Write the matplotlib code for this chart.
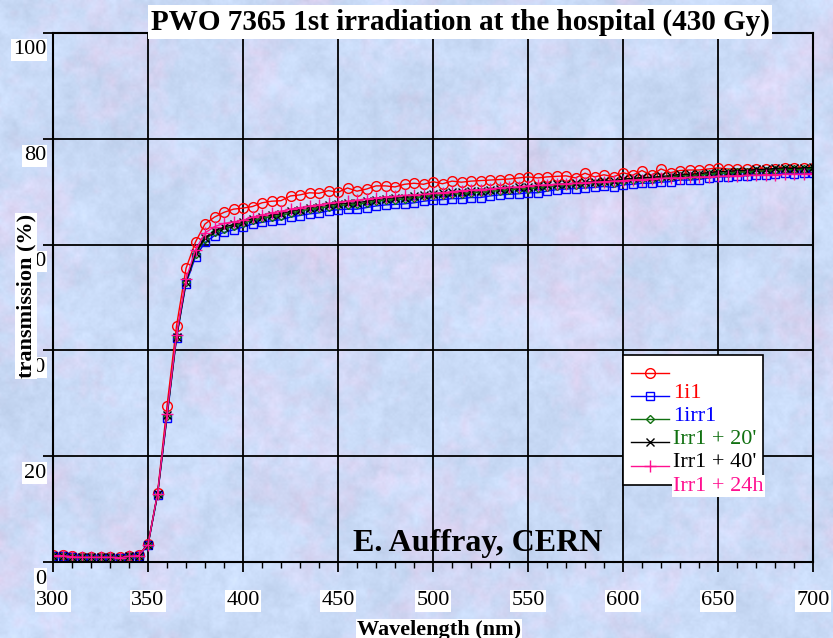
import numpy as np
import matplotlib
matplotlib.use("Agg")
import matplotlib.pyplot as plt
from matplotlib.transforms import Affine2D, blended_transform_factory, offset_copy
from matplotlib.lines import Line2D
from matplotlib.patches import Rectangle

# wavelength grid (nm), 5 nm steps
wl = np.arange(300, 705, 5)

# transmission (%) for each measurement
t_before = [1.3, 1.3, 1.1, 1.0, 1.0, 1.0, 1.0, 0.9, 1.2, 1.3,
            3.4, 13.0, 29.5, 44.6, 55.5, 60.5, 63.9, 65.2, 66.1, 66.7,
            66.9, 67.2, 67.9, 68.2, 68.3, 69.2, 69.4, 69.8, 69.7, 70.2,
            69.9, 70.7, 70.1, 70.5, 71.1, 71.1, 70.9, 71.4, 71.6, 71.4,
            71.9, 71.5, 72.0, 71.8, 72.0, 72.1, 72.2, 72.3, 72.4, 72.6,
            72.8, 72.6, 72.8, 72.9, 73.0, 72.6, 73.5, 72.8, 73.2, 72.8,
            73.6, 73.1, 74.0, 73.1, 74.3, 73.6, 74.0, 74.1, 74.1, 74.3,
            74.5, 74.3, 74.3, 74.3, 74.3, 74.3, 74.3, 74.5, 74.5, 74.5,
            74.5]
t_1i1 = [1.1, 1.1, 0.9, 0.8, 0.8, 0.8, 0.8, 0.7, 1.0, 1.1,
         3.2, 12.6, 27.3, 42.3, 52.6, 57.7, 60.4, 61.7, 62.3, 62.8,
         63.3, 63.9, 64.2, 64.5, 64.7, 65.2, 65.5, 65.8, 66.0, 66.4,
         66.6, 66.7, 66.7, 67.0, 67.3, 67.5, 67.6, 67.7, 67.9, 68.2,
         68.4, 68.5, 68.7, 68.7, 68.9, 68.9, 69.2, 69.4, 69.5, 69.6,
         69.8, 69.8, 70.1, 70.4, 70.5, 70.6, 70.7, 70.8, 71.0, 70.8,
         71.3, 71.4, 71.6, 71.6, 71.8, 71.9, 72.2, 72.2, 72.3, 72.6,
         72.8, 72.8, 73.0, 73.0, 73.2, 73.2, 73.3, 73.5, 73.4, 73.5,
         73.5]
t_1irr1 = [1.2, 1.2, 1.0, 0.9, 0.9, 0.9, 0.9, 0.8, 1.1, 1.2,
           3.3, 12.7, 27.6, 42.5, 52.9, 58.2, 61.0, 62.3, 63.0, 63.5,
           64.0, 64.6, 65.0, 65.3, 65.5, 66.0, 66.3, 66.7, 66.9, 67.2,
           67.4, 67.5, 67.6, 67.9, 68.2, 68.4, 68.5, 68.6, 68.8, 69.1,
           69.3, 69.4, 69.6, 69.6, 69.8, 69.9, 70.1, 70.2, 70.3, 70.5,
           70.6, 70.7, 70.9, 71.1, 71.2, 71.3, 71.5, 71.6, 71.8, 71.7,
           72.1, 72.2, 72.4, 72.4, 72.6, 72.7, 73.0, 73.0, 73.1, 73.3,
           73.5, 73.5, 73.7, 73.7, 73.9, 73.9, 74.1, 74.2, 74.2, 74.3,
           74.4]
t_20min = [1.2, 1.2, 1.0, 0.9, 0.9, 0.9, 0.9, 0.8, 1.1, 1.2,
           3.3, 12.8, 27.8, 42.6, 53.0, 58.4, 61.3, 62.6, 63.3, 63.8,
           64.3, 64.9, 65.3, 65.6, 65.8, 66.3, 66.6, 67.0, 67.2, 67.5,
           67.7, 67.8, 67.9, 68.2, 68.5, 68.7, 68.8, 68.9, 69.1, 69.4,
           69.6, 69.7, 69.9, 69.9, 70.1, 70.2, 70.4, 70.5, 70.6, 70.8,
           70.9, 71.0, 71.2, 71.4, 71.5, 71.6, 71.8, 71.9, 72.1, 72.0,
           72.4, 72.5, 72.7, 72.7, 72.9, 73.0, 73.3, 73.3, 73.4, 73.6,
           73.8, 73.8, 74.0, 74.0, 74.2, 74.2, 74.4, 74.5, 74.4, 74.5,
           74.6]
t_40min = [1.2, 1.2, 1.0, 0.9, 0.9, 0.9, 0.9, 0.8, 1.1, 1.2,
           3.3, 12.9, 28.0, 42.9, 53.5, 59.0, 62.2, 63.4, 64.0, 64.3,
           64.6, 65.2, 65.6, 66.0, 66.3, 66.7, 67.0, 67.3, 67.5, 67.8,
           68.0, 68.2, 68.4, 68.6, 68.8, 69.0, 69.1, 69.3, 69.4, 69.5,
           69.7, 69.8, 70.0, 70.2, 70.3, 70.4, 70.5, 70.7, 70.8, 70.9,
           71.1, 71.2, 71.3, 71.4, 71.5, 71.6, 71.7, 71.8, 71.9, 72.0,
           72.1, 72.2, 72.3, 72.4, 72.5, 72.6, 72.6, 72.7, 72.8, 72.8,
           72.9, 73.0, 73.0, 73.1, 73.1, 73.2, 73.2, 73.3, 73.3, 73.3,
           73.4]

series = [t_before, t_1i1, t_1irr1, t_20min, t_40min]
colors = ["#ff0000", "#0000ff", "#107010", "#000000", "#ff1090"]
markers = ["o", "s", "D", "x", "+"]
msizes = [7, 6, 4, 6, 9]
# legend texts sit one row below their handles
legend_texts = ["1i1", "1irr1", "Irr1 + 20'", "Irr1 + 40'", "Irr1 + 24h"]
legend_colors = ["#ff0000", "#0000ff", "#107010", "#000000", "#ff1090"]

xticks = np.arange(300, 701, 50)
yticks = np.arange(0, 101, 20)

W, H = 833, 638
plt.rcParams["font.family"] = ["Liberation Serif", "DejaVu Serif"]
fig = plt.figure(figsize=(W / 100, H / 100), dpi=100)
pix = Affine2D().scale(1 / W, -1 / H).translate(0, 1) + fig.transFigure

# mottled blue / lavender backdrop
rng = np.random.default_rng(11)


def smooth_noise(ny, nx):
    g = rng.random((ny + 1, nx + 1))
    ys = np.linspace(0, ny, H)
    xs = np.linspace(0, nx, W)
    y0 = np.minimum(ys.astype(int), ny - 1)
    x0 = np.minimum(xs.astype(int), nx - 1)
    fy = (ys - y0)[:, None]
    fx = (xs - x0)[None, :]
    a = g[y0][:, x0]
    b = g[y0][:, x0 + 1]
    c = g[y0 + 1][:, x0]
    d = g[y0 + 1][:, x0 + 1]
    return (a * (1 - fx) + b * fx) * (1 - fy) + (c * (1 - fx) + d * fx) * fy


light = (0.3 * smooth_noise(14, 18) + 0.3 * smooth_noise(45, 60)
         + 0.25 * smooth_noise(120, 160) + 0.15 * smooth_noise(300, 400))
pinkness = 0.5 * smooth_noise(12, 16) + 0.3 * smooth_noise(40, 52) + 0.2 * smooth_noise(110, 140)
pinkness = np.clip((pinkness - 0.45) * 2.0, 0, 1)
blue = np.array([0.79, 0.86, 0.97])
pink = np.array([0.89, 0.83, 0.95])
base = blue * (1 - pinkness[..., None]) + pink * pinkness[..., None]
tex = base + (light[..., None] - 0.5) * 0.14
tex = np.clip(tex, 0, 1)

bg = fig.add_axes([0, 0, 1, 1], zorder=-10)
bg.imshow(tex, aspect="auto", interpolation="bilinear")
bg.axis("off")

ax = fig.add_axes([53 / W, 1 - 562 / H, 760 / W, 529 / H])
ax.set_facecolor("none")

for vals, c, m, ms in zip(series, colors, markers, msizes):
    ax.plot(wl, vals, color=c, lw=1.0, marker=m, ms=ms, mfc="none", mec=c, mew=1.0)

ax.set_xlim(300, 700)
ax.set_ylim(0, 100)
ax.set_xticks(xticks)
ax.set_xticks(np.arange(300, 701, 10), minor=True)
ax.set_yticks(yticks)
ax.set_yticklabels([])
ax.grid(True, which="major", color="black", lw=1.3)
ax.tick_params(axis="x", which="major", direction="out", length=7, width=1.3,
               labelsize=16, pad=14)
ax.tick_params(axis="x", which="minor", direction="out", length=4, width=1.0)
ax.tick_params(axis="y", which="major", direction="out", length=7, width=1.3)
for s in ax.spines.values():
    s.set_linewidth(1.5)
for lbl in ax.get_xticklabels():
    lbl.set_bbox(dict(facecolor="white", edgecolor="none", pad=1))

# y labels hang just below their grid lines
ytrans = offset_copy(blended_transform_factory(ax.transAxes, ax.transData),
                     fig=fig, x=-7, y=-17, units="dots")
for v in yticks:
    ax.text(0, v, str(v), transform=ytrans, ha="right", va="center", fontsize=16,
            bbox=dict(facecolor="white", edgecolor="none", pad=1), clip_on=False)

# legend drawn by hand
fig.add_artist(Rectangle((623, 355), 140, 130, transform=pix, facecolor="white",
                         edgecolor="black", lw=1.2, zorder=5))
row_y = [373, 396, 419, 442, 466]
for y, c, m, ms in zip(row_y, colors, markers, msizes):
    fig.add_artist(Line2D([631, 669], [y, y], transform=pix, color=c, lw=1.0, zorder=6))
    fig.add_artist(Line2D([650], [y], transform=pix, color=c, marker=m, ms=ms,
                          mfc="none", mec=c, mew=1.0, zorder=6))
for i, (txt, c) in enumerate(zip(legend_texts, legend_colors)):
    box = dict(facecolor="white", edgecolor="none", pad=1) if i == len(legend_texts) - 1 else None
    fig.text(673, 393 + 23.3 * i, txt, transform=pix, color=c, fontsize=16,
             ha="left", va="center", bbox=box, zorder=7)

fig.text(460, 22, "PWO 7365 1st irradiation at the hospital (430 Gy)", transform=pix,
         fontsize=21, fontweight="bold", ha="center", va="center",
         bbox=dict(facecolor="white", edgecolor="none", pad=2))
fig.text(26, 296, "transmission (%)", transform=pix, rotation=90, fontsize=16,
         fontweight="bold", ha="center", va="center",
         bbox=dict(facecolor="white", edgecolor="none", pad=1))
fig.text(439, 630, "Wavelength (nm)", transform=pix, fontsize=16, fontweight="bold",
         ha="center", va="center", bbox=dict(facecolor="white", edgecolor="none", pad=1))
fig.text(478, 543, "E. Auffray, CERN", transform=pix, fontsize=23, fontweight="bold",
         ha="center", va="center")

fig.savefig("out.png", dpi=100)
